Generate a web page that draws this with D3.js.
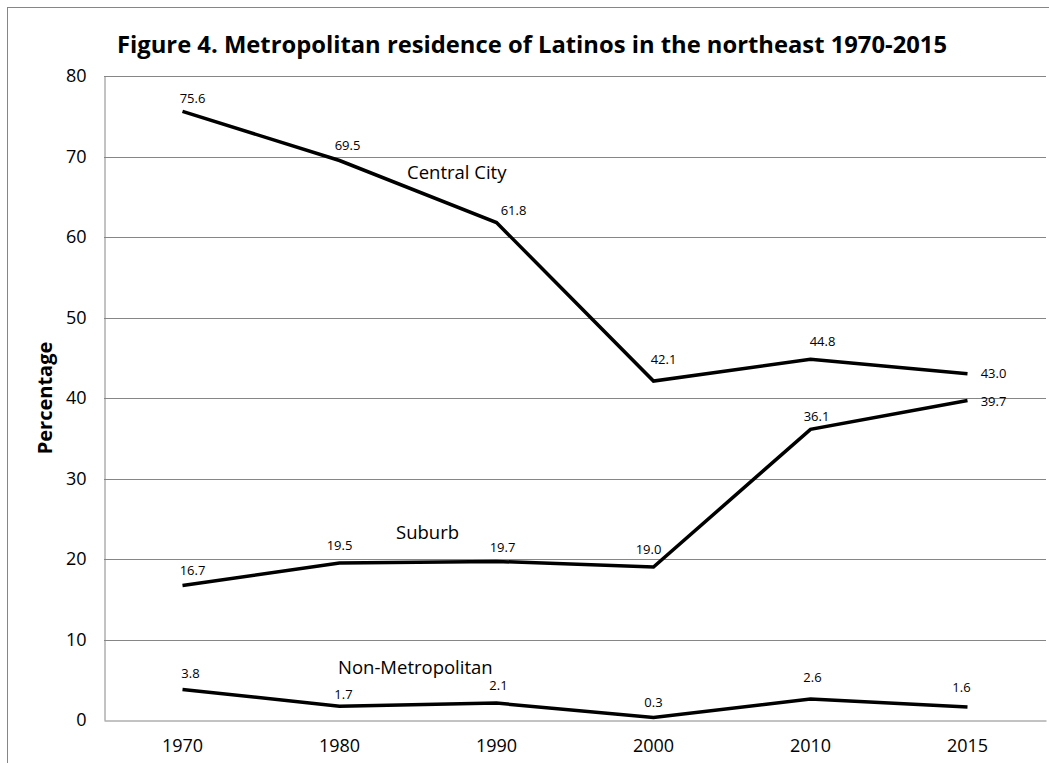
<!DOCTYPE html>
<html>
<head>
<meta charset="utf-8">
<script src="https://cdn.jsdelivr.net/npm/d3@7"></script>
<style>
  html, body { margin: 0; padding: 0; background: #fff; }
  svg { display: block; }
  text { font-family: "Open Sans", "Noto Sans", sans-serif; fill: #000; }
</style>
</head>
<body>
<svg id="chart" width="1049" height="763"></svg>
<script>
// ---- data ----
const years = ["1970", "1980", "1990", "2000", "2010", "2015"];
const centralCity = [75.6, 69.5, 61.8, 42.1, 44.8, 43.0];
const suburb = [16.7, 19.5, 19.7, 19.0, 36.1, 39.7];
const nonMetro = [3.8, 1.7, 2.1, 0.3, 2.6, 1.6];
const yTicks = [0, 10, 20, 30, 40, 50, 60, 70, 80];
const seriesNames = ["Central City", "Suburb", "Non-Metropolitan"];

// label placement (layout, pixel offsets from each point)
const centralOffsets = [[10, -13], [8, -15], [17, -12], [10, -22], [12, -18], [26, 0]];
const suburbOffsets = [[10, -15], [0, -18], [6, -14], [-5, -18], [6, -13], [26, 1]];
const nonMetroOffsets = [[8, -16], [4, -12], [2, -18], [0, -15], [2, -22], [-6, -20]];

const svg = d3.select("#chart");
const plot = { left: 104, right: 1046, top: 76, bottom: 720 };

// outer chart border
svg.append("rect")
  .attr("x", 7.5).attr("y", 7.5)
  .attr("width", 1060).attr("height", 800)
  .attr("fill", "none").attr("stroke", "#868686").attr("stroke-width", 1);

const x = d3.scaleBand().domain(years).range([plot.left, plot.right]).padding(0);
const y = d3.scaleLinear().domain([0, 80]).range([plot.bottom, plot.top]);
const cx = d => x(d) + x.bandwidth() / 2;

// gridlines
svg.append("g").selectAll("line").data(yTicks.filter(t => t > 0)).join("line")
  .attr("x1", plot.left).attr("x2", plot.right)
  .attr("y1", d => Math.round(y(d)) + 0.5).attr("y2", d => Math.round(y(d)) + 0.5)
  .attr("stroke", "#868686").attr("stroke-width", 1);

// y axis
const yAxis = d3.axisLeft(y).tickValues(yTicks).tickSize(0).tickPadding(18).tickFormat(d3.format("d"));
const gy = svg.append("g").attr("transform", `translate(${plot.left + 0.5},0)`).call(yAxis);
gy.select(".domain").attr("stroke", "#868686");
gy.selectAll("text").attr("font-size", 18).attr("font-family", "Open Sans");

// x axis
const xAxis = d3.axisBottom(x).tickSize(0).tickPadding(19);
const gx = svg.append("g").attr("transform", `translate(0,${plot.bottom + 0.5})`).call(xAxis);
gx.select(".domain").attr("stroke", "#868686");
gx.selectAll("text").attr("font-size", 18).attr("font-family", "Open Sans");

// lines
const series = [
  { name: seriesNames[0], values: centralCity, offs: centralOffsets },
  { name: seriesNames[1], values: suburb, offs: suburbOffsets },
  { name: seriesNames[2], values: nonMetro, offs: nonMetroOffsets }
];
const line = d3.line().x((d, i) => cx(years[i])).y(d => y(d));
svg.append("g").selectAll("path").data(series).join("path")
  .attr("d", s => line(s.values))
  .attr("fill", "none").attr("stroke", "#000").attr("stroke-width", 3.5)
  .attr("stroke-linejoin", "miter");

// data labels
series.forEach(s => {
  svg.append("g").selectAll("text").data(s.values).join("text")
    .attr("x", (d, i) => cx(years[i]) + s.offs[i][0])
    .attr("y", (d, i) => y(d) + s.offs[i][1])
    .attr("dy", "0.35em")
    .attr("text-anchor", "middle")
    .attr("font-size", 13)
    .text(d => d3.format(".1f")(d));
});

// series labels (placed in chart coordinates, left-anchored)
const seriesLabelPos = [
  { x: "1990", xo: -89.5, v: 67.95 },
  { x: "1980", xo: 56.5, v: 23.35 },
  { x: "1980", xo: -1.5, v: 6.58 }
];
seriesNames.forEach((n, i) => {
  svg.append("text")
    .attr("x", cx(seriesLabelPos[i].x) + seriesLabelPos[i].xo)
    .attr("y", y(seriesLabelPos[i].v))
    .attr("dy", "0.35em")
    .attr("text-anchor", "start")
    .attr("font-size", 18.5)
    .text(n);
});

// title
svg.append("text")
  .attr("x", 532).attr("y", 45).attr("dy", "0.35em")
  .attr("text-anchor", "middle")
  .attr("font-size", 23.5).attr("font-weight", "bold")
  .attr("textLength", 830).attr("lengthAdjust", "spacingAndGlyphs")
  .text("Figure 4. Metropolitan residence of Latinos in the northeast 1970-2015");

// y axis title
svg.append("text")
  .attr("transform", "translate(45,398) rotate(-90)")
  .attr("dy", "0.35em")
  .attr("text-anchor", "middle")
  .attr("font-size", 20).attr("font-weight", "bold")
  .text("Percentage");
</script>
</body>
</html>
